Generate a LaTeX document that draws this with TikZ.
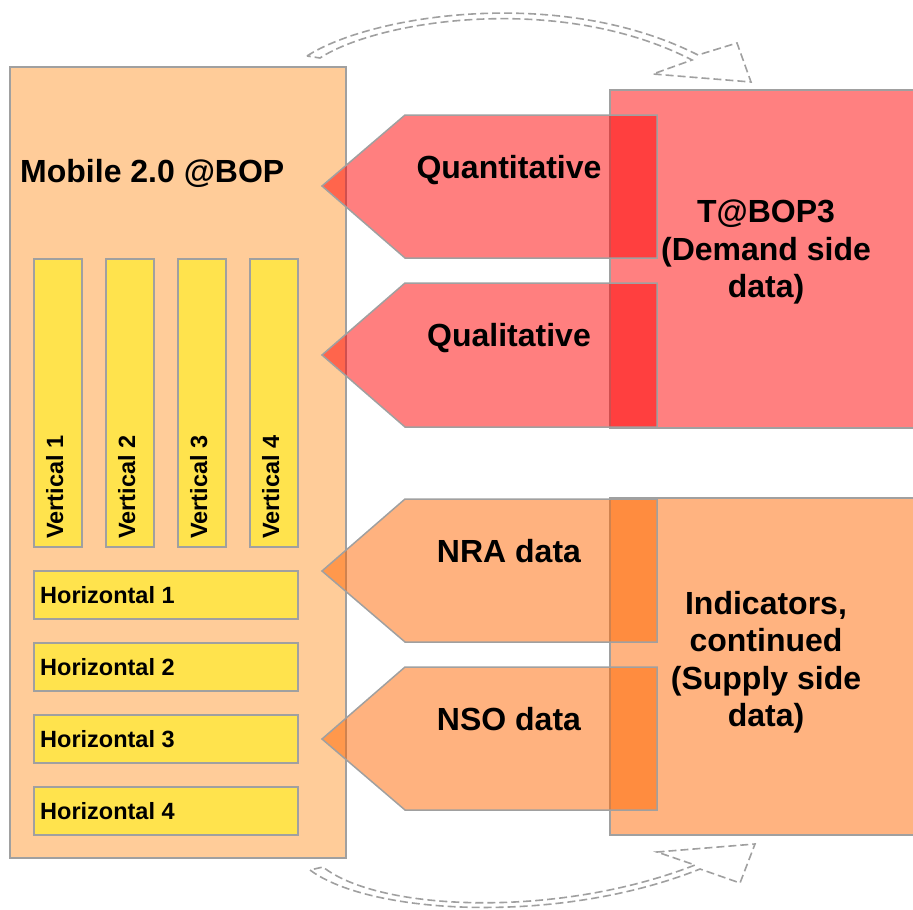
\documentclass[tikz,border=0pt]{standalone}
\usepackage{fontspec}
\setmainfont{Liberation Sans}
\definecolor{bordergray}{HTML}{A0A0A0}
\definecolor{peach}{HTML}{FFCC99}
\definecolor{baryellow}{HTML}{FFE34D}
\definecolor{redbox}{HTML}{FF8080}
\definecolor{orangebox}{HTML}{FFB380}
\definecolor{redarrow}{HTML}{FF0000}
\definecolor{orangearrow}{HTML}{FF6600}
\begin{document}
\begin{tikzpicture}[x=1pt,y=-1pt,
  outline/.style={draw=bordergray,line width=1.5pt},
  bigtext/.style={font=\fontsize{32}{37.5}\selectfont\bfseries,inner sep=0pt},
  smalltext/.style={font=\fontsize{23.5}{28}\selectfont\bfseries,inner sep=0pt},
  dashedarrow/.style={draw=bordergray,line width=1.6pt,dash pattern=on 8pt off 4pt,line join=miter},
  redptr/.style={outline,fill=redarrow,fill opacity=0.5},
  orangeptr/.style={outline,fill=orangearrow,fill opacity=0.5}]
\useasboundingbox (0,0) rectangle (913,910);

% curved dashed block arrows
\draw[dashedarrow] (307,56) .. controls (370,15) and (560,-15) .. (698,55)
  -- (737,43) -- (751,82) -- (653,74) -- (692,60)
  .. controls (560,-8) and (378,20) .. (320,58) -- cycle;
\draw[dashedarrow] (310,870) .. controls (370,915) and (560,925) .. (700,869)
  -- (740,883) -- (755,844) -- (657,852) -- (695,865)
  .. controls (560,918) and (380,912) .. (323,867) -- cycle;

% left container
\draw[outline,fill=peach] (10,67) rectangle (346,858);
\node[bigtext,anchor=base west] (mobile) at (20,182) {Mobile 2.0 @BOP};

\foreach \x/\i in {34/1,106/2,178/3,250/4}{
  \draw[outline,fill=baryellow] (\x,259) rectangle (\x+48,547);
  \node[smalltext,rotate=90,anchor=base west] (v\i) at (\x+29,539) {Vertical \i};
}
\foreach \y/\i in {571/1,643/2,715/3,787/4}{
  \draw[outline,fill=baryellow] (34,\y) rectangle (298,\y+48);
  \node[smalltext,anchor=base west] (h\i) at (40,\y+32) {Horizontal \i};
}

% right boxes
\draw[outline,fill=redbox] (610,90) rectangle (920,428);
\draw[outline,fill=orangebox] (610,498) rectangle (920,835);
\node[bigtext,align=center] (demand) at (766,252) {T@BOP3\\(Demand side\\data)};
\node[bigtext,align=center] (supply) at (766,662) {Indicators,\\continued\\(Supply side\\data)};

% pointers
\draw[redptr] (322,186) -- (405,115) -- (657,115) -- (657,258) -- (405,258) -- cycle;
\draw[redptr] (322,355) -- (405,283) -- (657,283) -- (657,427) -- (405,427) -- cycle;
\draw[orangeptr] (322,571) -- (405,499) -- (657,499) -- (657,642) -- (405,642) -- cycle;
\draw[orangeptr] (322,739) -- (405,667) -- (657,667) -- (657,810) -- (405,810) -- cycle;

\node[bigtext,anchor=base] (quant) at (509,178) {Quantitative};
\node[bigtext,anchor=base] (qual) at (509,346) {Qualitative};
\node[bigtext,anchor=base] (nra) at (509,562) {NRA data};
\node[bigtext,anchor=base] (nso) at (509,730) {NSO data};
\end{tikzpicture}
\end{document}
